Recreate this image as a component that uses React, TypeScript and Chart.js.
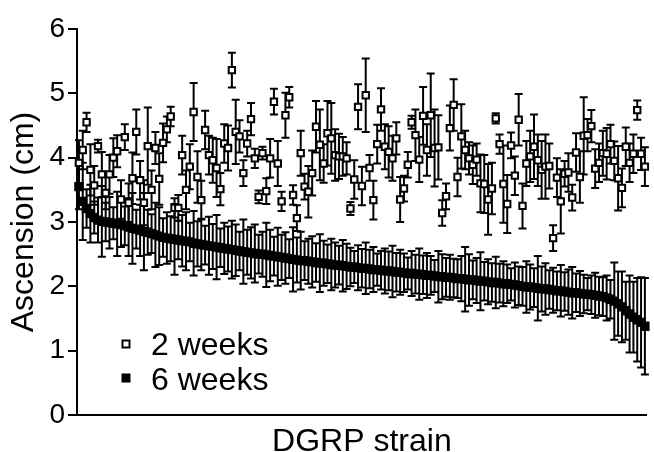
import React, { useEffect, useRef } from 'react';
import { Chart, registerables } from 'chart.js';

Chart.register(...registerables);

const FONT = '"Liberation Sans", Arial, Helvetica, sans-serif';

// Mean ascension (cm) per DGRP strain, 2-week-old flies
const week2 = [
  3.92, 4.12, 4.55, 3.81, 3.57, 4.18, 3.74, 3.45, 3.74, 4.0,
  4.1, 3.35, 4.32, 3.3, 3.68, 4.4, 3.65, 3.3, 4.18, 3.5,
  4.15, 3.67, 4.23, 4.44, 4.64, 3.22, 3.22, 4.04, 3.5, 3.86,
  4.71, 3.7, 3.34, 4.43, 4.04, 3.96, 3.84, 3.51, 4.22, 4.15,
  5.36, 4.4, 4.33, 3.76, 4.22, 4.6, 3.99, 3.39, 4.07, 3.48,
  3.99, 4.87, 3.91, 3.32, 4.66, 4.94, 3.42, 3.06, 4.07, 3.55,
  3.47, 3.76, 4.48, 4.2, 3.91, 4.38, 4.3, 4.04, 4.02, 4.02,
  3.99, 3.21, 3.66, 4.79, 3.56, 4.97, 3.84, 3.34, 4.21, 4.75,
  4.17, 4.09, 3.99, 4.3, 3.35, 3.52, 3.89, 4.55, 4.35, 3.97,
  4.65, 4.12, 4.66, 4.15, 4.16, 3.14, 3.4, 4.46, 4.82, 3.7,
  4.33, 4.12, 3.99, 3.89, 3.97, 3.6, 3.59, 3.35, 3.52, 4.61,
  4.21, 3.59, 3.28, 4.19, 3.72, 4.59, 3.25, 3.91, 4.02, 4.17,
  3.96, 3.81, 3.86, 3.87, 2.75, 3.69, 3.32, 3.75, 3.77, 3.38,
  4.08, 3.7, 4.34, 4.35, 4.49, 3.83, 3.92, 4.07, 4.06, 4.21,
  3.95, 3.68, 3.53, 4.17, 3.92, 4.06, 4.74, 4.06, 3.86,
];

// Standard error, 2 weeks
const week2Err = [
  0.35, 0.3, 0.15, 0.4, 0.3, 0.1, 0.35, 0.25, 0.3, 0.3,
  0.25, 0.3, 0.2, 0.3, 0.4, 0.35, 0.3, 0.35, 0.6, 0.3,
  0.25, 0.4, 0.3, 0.2, 0.15, 0.15, 0.2, 0.3, 0.3, 0.35,
  0.45, 0.4, 0.3, 0.3, 0.3, 0.35, 0.45, 0.25, 0.3, 0.35,
  0.27, 0.5, 0.25, 0.2, 0.2, 0.25, 0.15, 0.1, 0.1, 0.2,
  0.3, 0.2, 0.35, 0.15, 0.35, 0.16, 0.15, 0.2, 0.35, 0.2,
  0.4, 0.35, 0.4, 0.55, 0.3, 0.5, 0.55, 0.4, 0.35, 0.3,
  0.25, 0.1, 0.3, 0.35, 0.3, 0.57, 0.2, 0.3, 0.3, 0.33,
  0.35, 0.4, 0.35, 0.25, 0.35, 0.2, 0.2, 0.1, 0.4, 0.35,
  0.45, 0.4, 0.65, 0.6, 0.5, 0.2, 0.2, 0.35, 0.4, 0.3,
  0.5, 0.3, 0.25, 0.3, 0.25, 0.45, 0.45, 0.55, 0.4, 0.08,
  0.15, 0.6, 0.45, 0.2, 0.3, 0.4, 0.35, 0.35, 0.4, 0.5,
  0.4, 0.45, 0.5, 0.35, 0.2, 0.3, 0.5, 0.2, 0.3, 0.2,
  0.3, 0.4, 0.6, 0.25, 0.25, 0.3, 0.3, 0.35, 0.4, 0.3,
  0.3, 0.5, 0.3, 0.3, 0.3, 0.3, 0.15, 0.25, 0.3,
];

// Mean ascension (cm) per DGRP strain, 6-week-old flies (strains sorted by this value)
const week6 = [
  3.55, 3.32, 3.21, 3.13, 3.07, 3.03, 3.01, 3.0, 2.99, 2.98,
  2.97, 2.96, 2.94, 2.92, 2.9, 2.89, 2.87, 2.85, 2.84, 2.82,
  2.8, 2.78, 2.76, 2.75, 2.74, 2.73, 2.72, 2.71, 2.7, 2.69,
  2.67, 2.66, 2.65, 2.64, 2.63, 2.62, 2.61, 2.6, 2.59, 2.58,
  2.57, 2.56, 2.55, 2.54, 2.53, 2.52, 2.51, 2.5, 2.5, 2.49,
  2.48, 2.47, 2.46, 2.45, 2.44, 2.43, 2.42, 2.41, 2.4, 2.4,
  2.39, 2.38, 2.37, 2.36, 2.36, 2.35, 2.34, 2.33, 2.33, 2.32,
  2.31, 2.3, 2.3, 2.29, 2.28, 2.28, 2.27, 2.26, 2.26, 2.25,
  2.24, 2.24, 2.23, 2.22, 2.22, 2.21, 2.2, 2.2, 2.19, 2.19,
  2.18, 2.17, 2.17, 2.16, 2.15, 2.15, 2.14, 2.14, 2.13, 2.12,
  2.12, 2.11, 2.1, 2.1, 2.09, 2.08, 2.08, 2.07, 2.06, 2.06,
  2.05, 2.04, 2.04, 2.03, 2.02, 2.01, 2.0, 1.99, 1.99, 1.98,
  1.97, 1.96, 1.96, 1.95, 1.94, 1.93, 1.93, 1.92, 1.91, 1.9,
  1.9, 1.89, 1.88, 1.88, 1.87, 1.86, 1.85, 1.84, 1.82, 1.8,
  1.77, 1.73, 1.68, 1.62, 1.57, 1.52, 1.48, 1.44, 1.38,
];

// Standard error, 6 weeks
const week6Err = [
  0.35, 0.6, 0.3, 0.45, 0.25, 0.35, 0.55, 0.3, 0.4, 0.25,
  0.5, 0.35, 0.3, 0.45, 0.55, 0.3, 0.4, 0.6, 0.35, 0.3,
  0.5, 0.45, 0.3, 0.4, 0.35, 0.55, 0.3, 0.4, 0.45, 0.3,
  0.5, 0.35, 0.4, 0.3, 0.45, 0.35, 0.5, 0.3, 0.4, 0.35,
  0.45, 0.4, 0.3, 0.5, 0.35, 0.4, 0.45, 0.3, 0.35, 0.5,
  0.4, 0.3, 0.45, 0.35, 0.4, 0.3, 0.5, 0.35, 0.45, 0.3,
  0.35, 0.4, 0.3, 0.45, 0.35, 0.3, 0.4, 0.35, 0.3, 0.4,
  0.35, 0.3, 0.25, 0.35, 0.3, 0.4, 0.3, 0.35, 0.25, 0.3,
  0.35, 0.3, 0.4, 0.3, 0.35, 0.3, 0.25, 0.35, 0.3, 0.4,
  0.3, 0.35, 0.3, 0.25, 0.4, 0.35, 0.3, 0.35, 0.3, 0.3,
  0.35, 0.5, 0.4, 0.3, 0.35, 0.45, 0.3, 0.35, 0.3, 0.4,
  0.3, 0.35, 0.3, 0.25, 0.35, 0.3, 0.3, 0.4, 0.35, 0.3,
  0.5, 0.35, 0.4, 0.3, 0.35, 0.3, 0.4, 0.3, 0.35, 0.4,
  0.3, 0.35, 0.3, 0.25, 0.3, 0.35, 0.3, 0.3, 0.35, 0.3,
  0.6, 0.5, 0.55, 0.45, 0.6, 0.55, 0.65, 0.7, 0.75,
];

const strains = week2.map((_, i) => `DGRP line ${i + 1}`);
const seriesLabels = ['2 weeks', '6 weeks'];
const yMin = 0;
const yMax = 6;
const yStep = 1;

const errorBarPlugin = {
  id: 'errorBars',
  beforeDatasetDraw(chart: any, args: any) {
    const ds = chart.data.datasets[args.index];
    const errs: number[] = ds.errorBars;
    if (!errs) return;
    const yScale = chart.scales.y;
    const ctx = chart.ctx;
    const cap = 4;
    ctx.save();
    ctx.strokeStyle = '#000';
    ctx.lineWidth = ds.errorLineWidth || 2;
    ctx.lineCap = 'butt';
    ctx.beginPath();
    args.meta.data.forEach((pt: any, i: number) => {
      const v = ds.data[i];
      const e = errs[i] ?? 0;
      const x = pt.x;
      const yt = yScale.getPixelForValue(v + e);
      const yb = yScale.getPixelForValue(v - e);
      ctx.moveTo(x, yt);
      ctx.lineTo(x, yb);
      ctx.moveTo(x - cap, yt);
      ctx.lineTo(x + cap, yt);
      ctx.moveTo(x - cap, yb);
      ctx.lineTo(x + cap, yb);
    });
    ctx.stroke();
    ctx.restore();
  },
};

const insideLegendPlugin = {
  id: 'insideLegend',
  afterDraw(chart: any, _args: any, opts: any) {
    const ctx = chart.ctx;
    ctx.save();
    ctx.font = `${opts.fontSize}px ${FONT}`;
    ctx.textAlign = 'left';
    ctx.textBaseline = 'alphabetic';
    chart.data.datasets.forEach((ds: any, i: number) => {
      const row = opts.rows[i];
      const s = opts.markerSize;
      const mx = opts.markerX;
      if (ds.pointBackgroundColor === '#fff') {
        ctx.fillStyle = '#fff';
        ctx.strokeStyle = '#000';
        ctx.lineWidth = 2;
        ctx.fillRect(mx - s / 2, row.markerY - s / 2, s, s);
        ctx.strokeRect(mx - s / 2, row.markerY - s / 2, s, s);
      } else {
        ctx.fillStyle = '#000';
        ctx.fillRect(mx - (s + 2) / 2, row.markerY - (s + 2) / 2, s + 2, s + 2);
      }
      ctx.fillStyle = '#000';
      ctx.fillText(ds.label, opts.textX, row.baseline);
    });
    ctx.restore();
  },
};

export default function App() {
  const canvasRef = useRef<HTMLCanvasElement | null>(null);

  useEffect(() => {
    if (!canvasRef.current) return;
    const chart = new Chart(canvasRef.current, {
      type: 'line',
      data: {
        labels: strains,
        datasets: [
          {
            label: seriesLabels[0],
            data: week2,
            errorBars: week2Err,
            errorLineWidth: 2,
            showLine: false,
            pointStyle: 'rect',
            pointRadius: 4.5,
            pointBorderWidth: 2,
            pointBackgroundColor: '#fff',
            pointBorderColor: '#000',
            clip: false,
          } as any,
          {
            label: seriesLabels[1],
            data: week6,
            errorBars: week6Err,
            errorLineWidth: 2,
            showLine: false,
            pointStyle: 'rect',
            pointRadius: 5.2,
            pointBorderWidth: 2,
            pointBackgroundColor: '#000',
            pointBorderColor: '#000',
            clip: false,
          } as any,
        ],
      },
      options: {
        responsive: false,
        animation: false,
        events: [],
        layout: { padding: { top: 29, right: 0, bottom: 0, left: 0 } },
        plugins: {
          legend: { display: false },
          tooltip: { enabled: false },
          insideLegend: {
            fontSize: 32,
            markerX: 126,
            markerSize: 7,
            textX: 151,
            rows: [
              { markerY: 344, baseline: 355 },
              { markerY: 378, baseline: 390 },
            ],
          },
        } as any,
        scales: {
          x: {
            type: 'category',
            offset: true,
            ticks: { display: false },
            grid: { display: false, drawTicks: false },
            border: { display: true, color: '#000', width: 2 },
            title: {
              display: true,
              text: 'DGRP strain',
              color: '#000',
              font: { family: FONT, size: 32, lineHeight: '20px' as any },
              padding: 0,
            },
            afterFit: (s: any) => {
              s.height = 37;
            },
          },
          y: {
            min: yMin,
            max: yMax,
            ticks: {
              stepSize: yStep,
              color: '#000',
              padding: 3,
              font: { family: FONT, size: 28 },
            },
            grid: {
              display: true,
              drawOnChartArea: false,
              drawTicks: true,
              tickLength: 9,
              color: '#000',
              lineWidth: 2,
            },
            border: { display: true, color: '#000', width: 2 },
            title: {
              display: true,
              text: 'Ascension (cm)',
              color: '#000',
              font: { family: FONT, size: 32 },
              padding: { top: 5, bottom: 0 },
            },
            afterFit: (s: any) => {
              s.width = 77;
            },
          },
        },
      },
      plugins: [errorBarPlugin, insideLegendPlugin],
    });
    return () => chart.destroy();
  }, []);

  return (
    <div style={{ position: 'absolute', left: 0, top: 0, width: 654, height: 452, background: '#fff' }}>
      <canvas ref={canvasRef} width={654} height={452} style={{ display: 'block' }} />
    </div>
  );
}
